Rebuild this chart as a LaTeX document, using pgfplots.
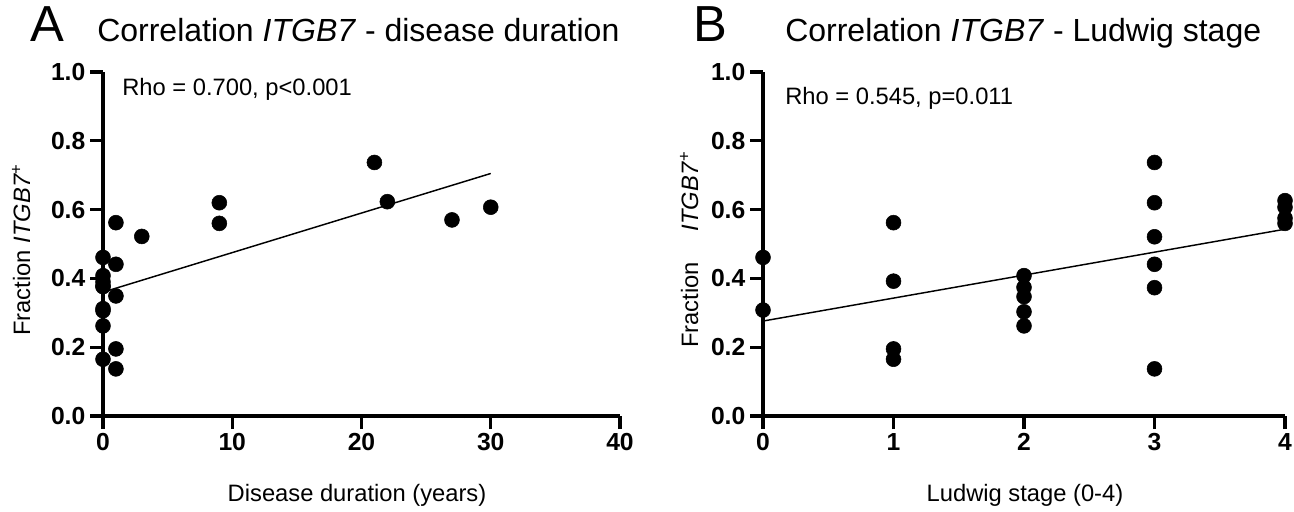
\documentclass[border=0pt]{standalone}
\usepackage{fontspec}
\setmainfont{Liberation Sans}
\usepackage{pgfplots}
\pgfplotsset{compat=1.18}
\begin{document}
\begin{tikzpicture}
\pgfplotsset{
  gp/.style={
    scale only axis, height=258pt,
    ymin=0, ymax=1, ytick={0,0.2,0.4,0.6,0.8,1.0},
    axis x line*=bottom, axis y line*=left,
    axis line style={line width=2.3pt, black},
    major tick style={line width=2.3pt, black},
    tick align=outside, major tick length=9.75pt,
    clip=false,
    /pgf/number format/assume math mode=true,
    ticklabel style={font=\bfseries\fontsize{18.5}{18.5}\selectfont},
    yticklabel style={/pgf/number format/.cd, fixed, fixed zerofill, precision=1},
    xticklabel style={/pgf/number format/fixed},
  },
  dots/.style={only marks, mark=*, mark size=5.6pt, mark options={fill=black, draw=black}},
}
\path[use as bounding box] (0pt,0pt) rectangle (970.5pt,383.25pt);
% ---------- Panel A ----------
\begin{axis}[gp, at={(77.25pt,71.25pt)}, anchor=south west, width=387.75pt,
  xmin=0, xmax=40, xtick={0,10,20,30,40},
  minor x tick num=9, minor tick length=3pt,
  minor tick style={line width=1pt, black, yshift=1.5pt}]
\addplot[no marks, line width=1.1pt, black] coordinates {(0,0.360) (30,0.705)};
\addplot[dots] table {
x y
0 0.461
0 0.408
0 0.390
0 0.376
0 0.378
0 0.312
0 0.306
0 0.262
0 0.165
1 0.562
1 0.441
1 0.349
1 0.195
1 0.137
3 0.522
9 0.620
9 0.560
21 0.737
22 0.623
27 0.570
30 0.607
};
\end{axis}
% ---------- Panel B ----------
\begin{axis}[gp, at={(572.25pt,71.25pt)}, anchor=south west, width=391.5pt,
  xmin=0, xmax=4, xtick={0,1,2,3,4}]
\addplot[no marks, line width=1.1pt, black] coordinates {(0,0.276) (4,0.543)};
\addplot[dots] table {
x y
0 0.461
0 0.308
1 0.562
1 0.392
1 0.195
1 0.165
2 0.408
2 0.374
2 0.347
2 0.303
2 0.262
3 0.737
3 0.620
3 0.521
3 0.441
3 0.373
3 0.137
4 0.626
4 0.607
4 0.575
4 0.560
};
\end{axis}
% ---------- texts ----------
\node[anchor=base west, inner sep=0pt, font=\fontsize{38}{38}\selectfont] at (22.5pt,351.75pt) {A};
\node[anchor=base west, inner sep=0pt, font=\fontsize{24}{24}\selectfont] at (72.75pt,351.75pt) {Correlation \textit{ITGB7} - disease duration};
\node[anchor=base west, inner sep=0pt, font=\fontsize{38}{38}\selectfont] at (519.75pt,351.75pt) {B};
\node[anchor=base west, inner sep=0pt, font=\fontsize{24}{24}\selectfont] at (588.75pt,351.75pt) {Correlation \textit{ITGB7} - Ludwig stage};
\node[anchor=base west, inner sep=0pt, font=\fontsize{17.8}{17.8}\selectfont] at (91.5pt,311.25pt) {Rho = 0.700, p<0.001};
\node[anchor=base west, inner sep=0pt, font=\fontsize{17.8}{17.8}\selectfont] at (588.75pt,304.5pt) {Rho = 0.545, p=0.011};
\node[anchor=base, inner sep=0pt, font=\fontsize{17.8}{17.8}\selectfont] at (267.75pt,7pt) {Disease duration (years)};
\node[anchor=base, inner sep=0pt, font=\fontsize{17.8}{17.8}\selectfont] at (768.75pt,7pt) {Ludwig stage (0-4)};
\node[anchor=base, rotate=90, inner sep=0pt, font=\fontsize{17.8}{17.8}\selectfont] at (22.5pt,196pt) {Fraction \textit{ITGB7}\textsuperscript{+}};
\node[anchor=base, rotate=90, inner sep=0pt, font=\fontsize{17.8}{17.8}\selectfont] at (523.5pt,196pt) {Fraction\hspace{1.3em}\textit{ITGB7}\textsuperscript{+}};
\end{tikzpicture}
\end{document}
